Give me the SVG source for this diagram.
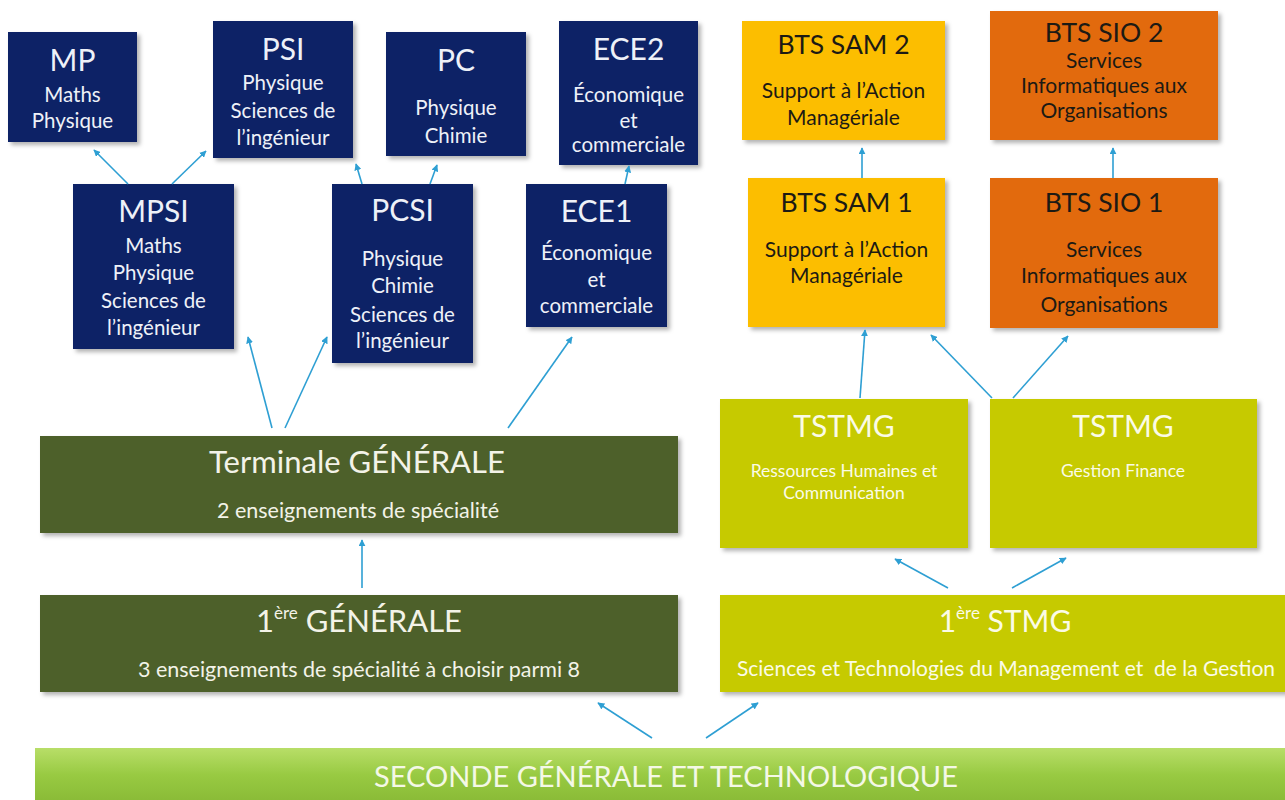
<svg xmlns="http://www.w3.org/2000/svg" width="1285" height="800" viewBox="0 0 1285 800">
<defs>
<filter id="sh" x="-10%" y="-10%" width="125%" height="125%">
<feDropShadow dx="3" dy="3" stdDeviation="2" flood-color="#000" flood-opacity="0.3"/>
</filter>
<linearGradient id="g2" x1="0" y1="0" x2="0" y2="1">
<stop offset="0" stop-color="#b8de68"/>
<stop offset="0.45" stop-color="#98ca42"/>
<stop offset="1" stop-color="#86b734"/>
</linearGradient>
<marker id="ah" viewBox="0 0 10 10" refX="9" refY="5" markerWidth="7" markerHeight="7" orient="auto" markerUnits="userSpaceOnUse">
<path d="M0,0 L10,5 L0,10 z" fill="#2e9fd3"/>
</marker>
</defs>
<style>
.navy{fill:#0d2466;filter:url(#sh)}
.sam{fill:#fcbe00;filter:url(#sh)}
.sio{fill:#e26b0c;filter:url(#sh)}
.lime{fill:#c6ca00;filter:url(#sh)}
.olive{fill:#4e6129;filter:url(#sh)}
text{font-family:Lato,"Liberation Sans",sans-serif;text-anchor:middle}
.wt{fill:#eef1f8;font-size:30px}
.wb{fill:#eef1f8;font-size:20.5px}
.dt{fill:#1c1a14;font-size:26.5px}
.db{fill:#1c1a14;font-size:21px}
.lt{fill:#fbfbe6;font-size:30px}
.lb{fill:#fbfbe6;font-size:17.5px}
.ot{fill:#f3f3e8;font-size:31px}
.ob{fill:#f3f3e8;font-size:21.5px}
.cn line{stroke:#2e9fd3;stroke-width:1.6;marker-end:url(#ah)}
</style>
<rect width="1285" height="800" fill="#fff"/>

<g id="mp"><rect class="navy" x="8" y="32" width="129" height="110"/>
<text class="wt" x="72.5" y="71">MP</text><text class="wb" x="72.5" y="102">Maths</text><text class="wb" x="72.5" y="128">Physique</text></g>
<g id="psi"><rect class="navy" x="213" y="21" width="140" height="137"/>
<text class="wt" x="283" y="60">PSI</text><text class="wb" x="283" y="90">Physique</text><text class="wb" x="283" y="118">Sciences de</text><text class="wb" x="283" y="145">l’ingénieur</text></g>
<g id="pc"><rect class="navy" x="386" y="32" width="140" height="124"/>
<text class="wt" x="456" y="71">PC</text><text class="wb" x="456" y="115">Physique</text><text class="wb" x="456" y="143">Chimie</text></g>
<g id="ece2"><rect class="navy" x="559" y="21" width="139" height="144"/>
<text class="wt" x="628.5" y="60">ECE2</text><text class="wb" x="628.5" y="102">Économique</text><text class="wb" x="628.5" y="128">et</text><text class="wb" x="628.5" y="152">commerciale</text></g>
<g id="mpsi"><rect class="navy" x="73" y="184" width="161" height="165"/>
<text class="wt" x="153.5" y="222">MPSI</text><text class="wb" x="153.5" y="253">Maths</text><text class="wb" x="153.5" y="280">Physique</text><text class="wb" x="153.5" y="308">Sciences de</text><text class="wb" x="153.5" y="335">l’ingénieur</text></g>
<g id="pcsi"><rect class="navy" x="332" y="184" width="141" height="179"/>
<text class="wt" x="402.5" y="221">PCSI</text><text class="wb" x="402.5" y="266">Physique</text><text class="wb" x="402.5" y="293">Chimie</text><text class="wb" x="402.5" y="322">Sciences de</text><text class="wb" x="402.5" y="348">l’ingénieur</text></g>
<g id="ece1"><rect class="navy" x="526" y="184" width="141" height="143"/>
<text class="wt" x="596.5" y="222">ECE1</text><text class="wb" x="596.5" y="260">Économique</text><text class="wb" x="596.5" y="287">et</text><text class="wb" x="596.5" y="313">commerciale</text></g>

<g id="sam2"><rect class="sam" x="742" y="21" width="203" height="119"/>
<text class="dt" x="843.5" y="54">BTS SAM 2</text><text class="db" x="843.5" y="98">Support à l’Action</text><text class="db" x="843.5" y="125">Managériale</text></g>
<g id="sio2"><rect class="sio" x="990" y="11" width="228" height="129"/>
<text class="dt" x="1104" y="42">BTS SIO 2</text><text class="db" x="1104" y="68">Services</text><text class="db" x="1104" y="93">Informatiques aux</text><text class="db" x="1104" y="118">Organisations</text></g>
<g id="sam1"><rect class="sam" x="748" y="178" width="197" height="149"/>
<text class="dt" x="846.5" y="212">BTS SAM 1</text><text class="db" x="846.5" y="257">Support à l’Action</text><text class="db" x="846.5" y="283">Managériale</text></g>
<g id="sio1"><rect class="sio" x="990" y="178" width="228" height="150"/>
<text class="dt" x="1104" y="212">BTS SIO 1</text><text class="db" x="1104" y="257">Services</text><text class="db" x="1104" y="283">Informatiques aux</text><text class="db" x="1104" y="312">Organisations</text></g>

<g id="tstmg-rh"><rect class="lime" x="720" y="399" width="248" height="149"/>
<text class="lt" x="844" y="437">TSTMG</text><text class="lb" x="844" y="477">Ressources Humaines et</text><text class="lb" x="844" y="499">Communication</text></g>
<g id="tstmg-gf"><rect class="lime" x="990" y="399" width="267" height="149"/>
<text class="lt" x="1123" y="437">TSTMG</text><text class="lb" x="1123" y="477">Gestion Finance</text></g>

<g id="terminale"><rect class="olive" x="40" y="436" width="638" height="97"/>
<text class="ot" x="357" y="473">Terminale GÉNÉRALE</text><text class="ob" x="358" y="518">2 enseignements de spécialité</text></g>
<g id="premiere-gen"><rect class="olive" x="40" y="595" width="638" height="97"/>
<text class="ot" x="359" y="632">1<tspan font-size="17" dy="-13">ère</tspan><tspan dy="13"> GÉNÉRALE</tspan></text><text class="ob" x="359" y="677">3 enseignements de spécialité à choisir parmi 8</text></g>
<g id="premiere-stmg"><rect class="lime" x="720" y="595" width="575" height="97"/>
<text class="lt" x="1005" y="632">1<tspan font-size="17" dy="-13">ère</tspan><tspan dy="13"> STMG</tspan></text><text class="lt" style="font-size:21px" x="1006" y="676" xml:space="preserve">Sciences et Technologies du Management et  de la Gestion</text></g>

<g id="seconde"><rect x="35" y="748" width="1260" height="60" fill="url(#g2)"/>
<text x="666" y="787" style="fill:#f4f8e6;font-size:29px">SECONDE GÉNÉRALE ET TECHNOLOGIQUE</text></g>

<g id="connectors" class="cn">
<line x1="128" y1="184" x2="94" y2="150"/>
<line x1="172" y1="184" x2="206" y2="151"/>
<line x1="362" y1="184" x2="356" y2="164"/>
<line x1="430" y1="184" x2="437" y2="165"/>
<line x1="625" y1="184" x2="629" y2="166"/>
<line x1="272" y1="428" x2="248" y2="337"/>
<line x1="285" y1="428" x2="327" y2="337"/>
<line x1="508" y1="428" x2="572" y2="337"/>
<line x1="362" y1="588" x2="362" y2="540"/>
<line x1="652" y1="738" x2="598" y2="703"/>
<line x1="706" y1="738" x2="758" y2="703"/>
<line x1="948" y1="588" x2="895" y2="559"/>
<line x1="1012" y1="588" x2="1066" y2="558"/>
<line x1="860" y1="398" x2="865" y2="330"/>
<line x1="992" y1="398" x2="931" y2="335"/>
<line x1="1013" y1="398" x2="1068" y2="336"/>
<line x1="862" y1="178" x2="862" y2="148"/>
<line x1="1113" y1="178" x2="1113" y2="148"/>
</g>
</svg>
